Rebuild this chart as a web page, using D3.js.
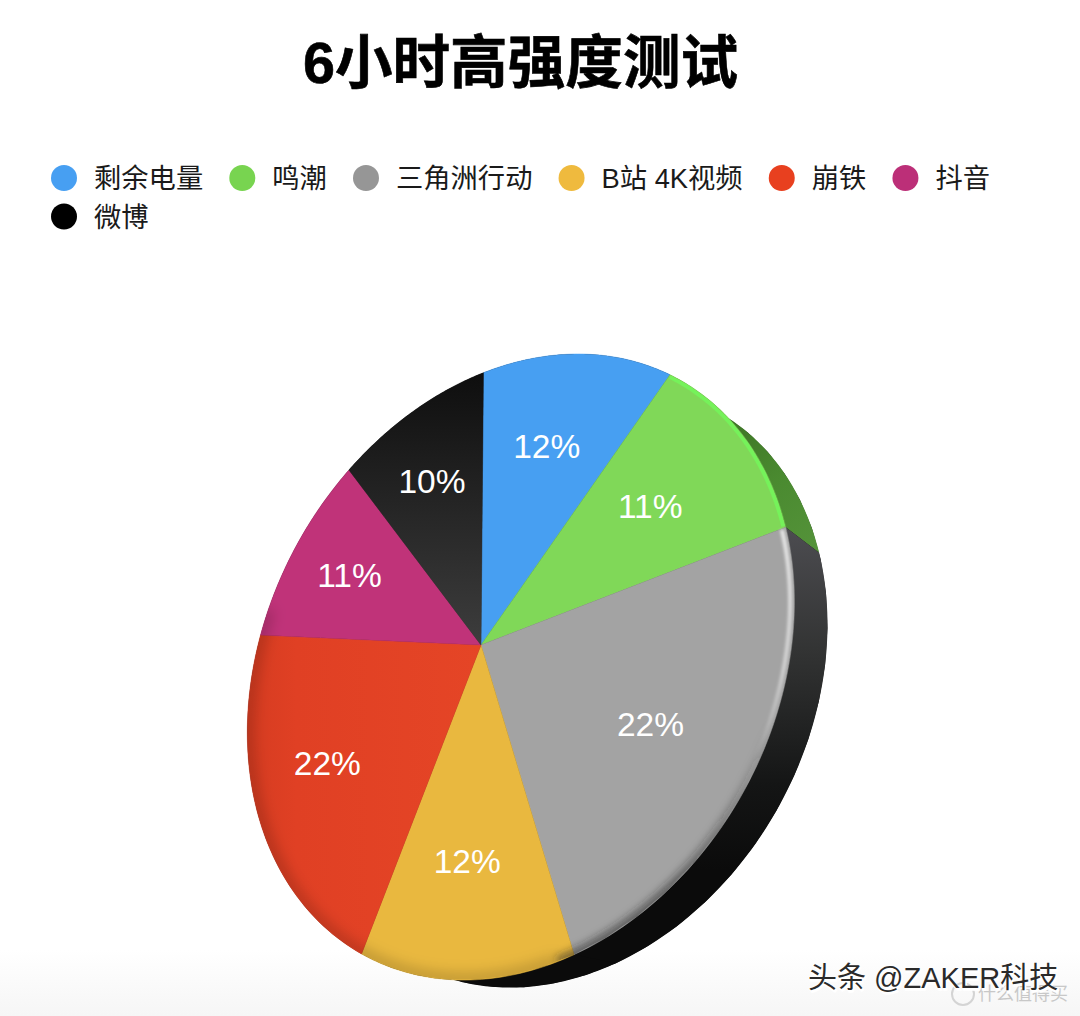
<!DOCTYPE html>
<html><head><meta charset="utf-8">
<script src="https://cdn.jsdelivr.net/npm/d3@7"></script>
<style>html,body{margin:0;padding:0;background:#fff}svg{display:block}
text{font-family:"Liberation Sans","Noto Sans CJK SC",sans-serif}</style></head>
<body><svg id="c" width="1080" height="1016"></svg>
<script>
const title="6小时高强度测试";
const categories=["剩余电量","鸣潮","三角洲行动","B站 4K视频","崩铁","抖音","微博"];
const values=[12,11,22,12,22,11,10];
const labels=["12%","11%","22%","12%","22%","11%","10%"];
const colors=["#479ff2","#80d858","#a3a3a3","#e9b83f","#e44325","#c03379","#000000"];
const legendColors=["#479ff2","#78d450","#969696","#efba3e","#e8401f","#bc2f78","#000000"];

const W=1080,H=1016;
const svg=d3.select("#c");
const defs=svg.append("defs");

// Projective view of the tilted disc: unit-disc coordinates to screen
const apex=[481,645];
const M=[197.23,-50.09,-155.28,234.81,-0.1403,-0.09865];
const proj=(r,t)=>{const u=r*Math.sin(t),v=-r*Math.cos(t),w=1+M[4]*u+M[5]*v;
  return[(M[0]*u+M[1]*v+apex[0])/w,(M[2]*u+M[3]*v+apex[1])/w];};
const rimR=t=>1+0.012*(1+Math.cos(t-2.2))/2;
const front=t=>proj(rimR(t),t);
const backS=0.96,backC=[521,668],backD=[44,20];
const back=t=>{const p=front(t);return[backC[0]+backD[0]+backS*(p[0]-backC[0]),backC[1]+backD[1]+backS*(p[1]-backC[1])];};
const steps=(a,b,f)=>d3.range(0,61).map(i=>f(a+(b-a)*i/60));
const line=d3.line();
const pie=d3.pie().sort(null).value(d=>d)(values);

// gradients
function grad(id,x1,y1,x2,y2,stops){const g=defs.append("linearGradient").attr("id",id).attr("gradientUnits","userSpaceOnUse")
  .attr("x1",x1).attr("y1",y1).attr("x2",x2).attr("y2",y2);
  stops.forEach(s=>g.append("stop").attr("offset",s[0]).attr("stop-color",s[1]).attr("stop-opacity",s[2]===undefined?1:s[2]));}
grad("wallGreen",690,390,815,555,[[0,"#35691f"],[0.6,"#4a8a30"],[1,"#55933a"]]);
grad("wallGray",0,530,0,870,[[0,"#4c4c50"],[0.35,"#333434"],[0.75,"#141515"],[1,"#0b0b0b"]]);
grad("faceBlack",0,372,0,645,[[0,"#0e0e0e"],[1,"#3d3d3d"]]);
grad("faceRed",250,0,480,0,[[0,"#d63c21"],[0.2,"#e04024"],[1,"#e54526"]]);
grad("bgBottom",0,950,0,1016,[[0,"#ffffff"],[1,"#f6f6f6"]]);
grad("hiWhite",0,530,0,760,[[0,"#fff",0.75],[0.6,"#fff",0.5],[1,"#fff",0]]);
grad("loDark",0,720,0,900,[[0,"#222",0],[1,"#222",0.65]]);
const blur=(id,s)=>defs.append("filter").attr("id",id).attr("x","-20%").attr("y","-20%").attr("width","140%").attr("height","140%")
  .append("feGaussianBlur").attr("stdDeviation",s);
blur("b1",1.8);blur("b2",7);blur("b3",0.7);blur("b4",4);
const facePath=line(steps(0,2*Math.PI,front))+"Z";
defs.append("clipPath").attr("id","faceClip").append("path").attr("d",facePath);

svg.append("rect").attr("y",950).attr("width",W).attr("height",66).attr("fill","url(#bgBottom)");

// side wall: full hull first, then the coloured parts
const wallFill=["#0b0b0b","url(#wallGreen)","url(#wallGray)",null,null,null,null];
svg.append("path").attr("d",line([...steps(0,2*Math.PI,back)])+"Z").attr("fill","#0b0b0b");
svg.append("g").selectAll("path").data(pie).join("path")
  .attr("d",d=>line([...steps(d.startAngle,d.endAngle,front),...steps(d.endAngle,d.startAngle,back)])+"Z")
  .attr("fill",(d,i)=>wallFill[i]||"#0b0b0b");

// face
const faceFill=colors.map((c,i)=>i===6?"url(#faceBlack)":i===4?"url(#faceRed)":c);
svg.append("g").selectAll("path").data(pie).join("path")
  .attr("d",d=>line([apex,...steps(d.startAngle,d.endAngle,front)])+"Z")
  .attr("fill",(d,i)=>faceFill[i]).attr("stroke",(d,i)=>faceFill[i]).attr("stroke-width",0.5);

// bevel
const bevel=svg.append("g").attr("clip-path","url(#faceClip)");
const deg=Math.PI/180;
bevel.append("path").attr("d",line(steps(165*deg,290*deg,front))).attr("fill","none")
  .attr("stroke","#000").attr("stroke-opacity",0.2).attr("stroke-width",12).attr("filter","url(#b2)");
bevel.append("path").attr("d",line(steps(105*deg,165*deg,front))).attr("fill","none")
  .attr("stroke","url(#loDark)").attr("stroke-width",9).attr("filter","url(#b4)");
bevel.append("path").attr("d",line(steps(43.5*deg,82.5*deg,t=>proj(rimR(t)-0.006,t)))).attr("fill","none")
  .attr("stroke","#74f25a").attr("stroke-width",4).attr("filter","url(#b3)");
bevel.append("path").attr("d",line(steps(83*deg,125*deg,t=>proj(rimR(t)-0.012,t)))).attr("fill","none")
  .attr("stroke","url(#hiWhite)").attr("stroke-width",4).attr("filter","url(#b1)");

// data labels
const labelR=0.675;
svg.append("g").selectAll("text").data(pie).join("text")
  .attr("x",d=>proj(labelR,(d.startAngle+d.endAngle)/2)[0])
  .attr("y",d=>proj(labelR,(d.startAngle+d.endAngle)/2)[1]+11)
  .attr("text-anchor","middle").attr("font-size",33.5).attr("fill","#fff").text((d,i)=>labels[i]);

// title
svg.append("text").attr("x",520.5).attr("y",83).attr("text-anchor","middle")
  .attr("font-size",57.6).attr("font-weight",700).attr("fill","#000")
  .attr("stroke","#000").attr("stroke-width",0.6).text(title);

// legend (flow layout)
const lg=svg.append("g");
let lx=64,ly=178;
categories.forEach((c,i)=>{
  const t=lg.append("text").attr("x",lx+30).attr("y",ly+10).attr("font-size",27.3).attr("fill","#1a1a1a").text(c);
  const w=t.node().getComputedTextLength();
  if(lx+30+w>1010){lx=64;ly+=38.5;t.attr("x",lx+30).attr("y",ly+10);}
  lg.append("circle").attr("cx",lx).attr("cy",ly).attr("r",13).attr("fill",legendColors[i]);
  lx+=30+w+39.1;
});

// watermarks
svg.append("circle").attr("cx",963).attr("cy",994).attr("r",11).attr("fill","none").attr("stroke","#d4d4d4").attr("stroke-width",2);
svg.append("text").attr("x",978).attr("y",1000).attr("font-size",18).attr("fill","#c8c8c8").text("什么值得买");
svg.append("text").attr("x",808).attr("y",988).attr("font-size",29).attr("fill","#fff")
   .attr("stroke","#fff").attr("stroke-width",1.5).attr("transform","translate(1,1.5)").text("头条 @ZAKER科技");
svg.append("text").attr("x",808).attr("y",988).attr("font-size",29).attr("fill","#2a2a2a").text("头条 @ZAKER科技");
</script></body></html>
